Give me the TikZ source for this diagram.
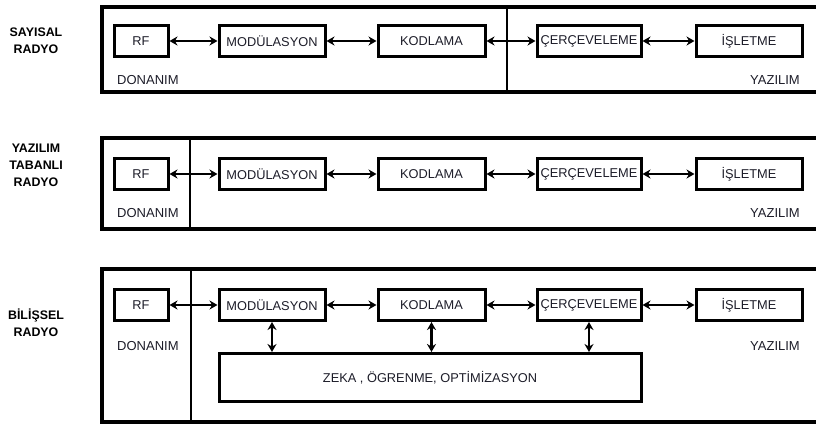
\documentclass[tikz,border=0pt]{standalone}
\usepackage{fontspec}
\setmainfont{Liberation Sans}
\usetikzlibrary{arrows.meta}
\definecolor{ink}{HTML}{1C1C28}
\tikzset{
  x=1pt, y=-1pt,
  panel/.style={draw, line width=3.2pt},
  divider/.style={draw, line width=2.4pt},
  blk/.style={draw, line width=3pt, minimum height=31pt, inner sep=0pt,
    text=ink, font=\fontsize{12.8}{15}\selectfont},
  tag/.style={text=ink, font=\fontsize{13}{15}\selectfont, inner sep=0pt},
  side/.style={align=center, font=\bfseries\fontsize{12.4}{17}\selectfont, inner sep=0pt},
  arr/.style={line width=2.5pt, {Stealth[length=8pt,width=9pt]}-{Stealth[length=8pt,width=9pt]}}
}
\begin{document}
\begin{tikzpicture}
\clip (0,0) rectangle (816,425);

% ---- SAYISAL RADYO ----
\node[side] (l1) at (36,41) {SAYISAL\\RADYO};
\draw[panel] (102,7) rectangle (830,92);
\draw[divider] (507,7) -- (507,92);
\node[blk, minimum width=54pt]  (rf1) at (141,41)   {RF};
\node[blk, minimum width=106pt] (m1)  at (272,41)   {MODÜLASYON};
\node[blk, minimum width=107pt] (k1)  at (431.5,41) {KODLAMA};
\node[blk, minimum width=104pt] (c1)  at (589,41)   {ÇERÇEVELEME};
\node[blk, minimum width=106pt] (i1)  at (749,41)   {İŞLETME};
\node[tag, anchor=west] (d1) at (117,80) {DONANIM};
\node[tag] (y1) at (775,80) {YAZILIM};
\draw[arr] (rf1) -- (m1);
\draw[arr] (m1) -- (k1);
\draw[arr] (k1) -- (c1);
\draw[arr] (c1) -- (i1);

% ---- YAZILIM TABANLI RADYO ----
\node[side] (l2) at (36,165) {YAZILIM\\TABANLI\\RADYO};
\draw[panel] (102,138) rectangle (830,229);
\draw[divider] (190,138) -- (190,229);
\node[blk, minimum width=54pt]  (rf2) at (141,174)   {RF};
\node[blk, minimum width=106pt] (m2)  at (272,174)   {MODÜLASYON};
\node[blk, minimum width=107pt] (k2)  at (431.5,174) {KODLAMA};
\node[blk, minimum width=104pt] (c2)  at (589,174)   {ÇERÇEVELEME};
\node[blk, minimum width=106pt] (i2)  at (749,174)   {İŞLETME};
\node[tag, anchor=west] (d2) at (117,213) {DONANIM};
\node[tag] (y2) at (775,213) {YAZILIM};
\draw[arr] (rf2) -- (m2);
\draw[arr] (m2) -- (k2);
\draw[arr] (k2) -- (c2);
\draw[arr] (c2) -- (i2);

% ---- BİLİŞSEL RADYO ----
\node[side] (l3) at (36,323) {BİLİŞSEL\\RADYO};
\draw[panel] (102,269) rectangle (830,422);
\draw[divider] (191,269) -- (191,422);
\node[blk, minimum width=54pt]  (rf3) at (141,305)   {RF};
\node[blk, minimum width=106pt] (m3)  at (272,305)   {MODÜLASYON};
\node[blk, minimum width=107pt] (k3)  at (431.5,305) {KODLAMA};
\node[blk, minimum width=104pt] (c3)  at (589,305)   {ÇERÇEVELEME};
\node[blk, minimum width=106pt] (i3)  at (749,305)   {İŞLETME};
\node[blk, minimum width=422pt, minimum height=48pt] (z3) at (430,377.5) {ZEKA , ÖGRENME, OPTİMİZASYON};
\node[tag, anchor=west] (d3) at (117,346) {DONANIM};
\node[tag] (y3) at (775,346) {YAZILIM};
\draw[arr] (rf3) -- (m3);
\draw[arr] (m3) -- (k3);
\draw[arr] (k3) -- (c3);
\draw[arr] (c3) -- (i3);
\draw[arr] (m3.south) -- (m3.south |- z3.north);
\draw[arr] (k3.south) -- (k3.south |- z3.north);
\draw[arr] (c3.south) -- (c3.south |- z3.north);
\end{tikzpicture}
\end{document}
